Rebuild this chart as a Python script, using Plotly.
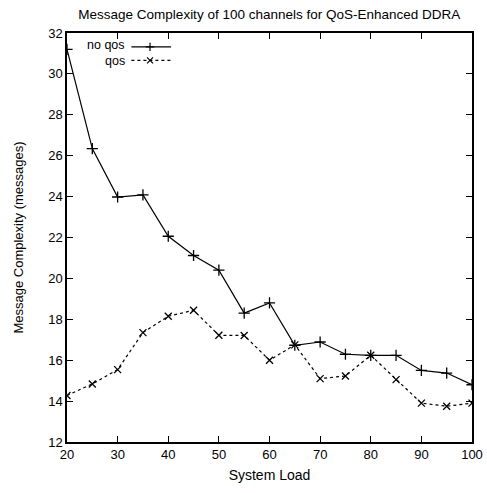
import plotly.graph_objects as go

# System load levels (x) and message complexity for each scheme
system_load = [20, 25, 30, 35, 40, 45, 50, 55, 60, 65, 70, 75, 80, 85, 90, 95, 100]
no_qos = [31.2, 26.35, 23.98, 24.08, 22.06, 21.12, 20.4, 18.3, 18.8, 16.73,
          16.89, 16.29, 16.24, 16.24, 15.5, 15.37, 14.8]
qos = [14.27, 14.84, 15.54, 17.35, 18.15, 18.44, 17.22, 17.21, 16.0, 16.75,
       15.1, 15.23, 16.24, 15.05, 13.9, 13.75, 13.9]

x_ticks = [20, 30, 40, 50, 60, 70, 80, 90, 100]
y_ticks = [12, 14, 16, 18, 20, 22, 24, 26, 28, 30, 32]

FONT = "Liberation Sans, Arial, sans-serif"
LW = 1.2

fig = go.Figure()

fig.add_trace(go.Scatter(
    x=system_load, y=no_qos, mode="lines+markers", name="no qos",
    line=dict(color="black", width=LW),
    marker=dict(symbol="cross-thin-open", size=8, color="black",
                line=dict(color="black", width=1.3)),
))
fig.add_trace(go.Scatter(
    x=system_load, y=qos, mode="lines+markers", name="qos",
    line=dict(color="black", width=LW, dash="3px,3px"),
    marker=dict(symbol="x-thin-open", size=7, color="black",
                line=dict(color="black", width=1.3)),
))

# Key in the upper-left corner: label on the left, line sample on the right
KEY_SPLIT = 0.951  # boundary between the two key rows (paper units)
key = [("no qos", "solid", "cross-thin-open", 0.966, "bottom"),
       ("qos", "3px,3px", "x-thin-open", 0.933, "top")]
for label, dash, sym, ky, anchor in key:
    fig.add_trace(go.Scatter(
        x=[0.159, 0.205, 0.257], y=[ky, ky, ky], xaxis="x2", yaxis="y2",
        mode="lines", line=dict(color="black", width=LW, dash=dash),
        hoverinfo="skip",
    ))
    fig.add_trace(go.Scatter(
        x=[0.205], y=[ky], xaxis="x2", yaxis="y2", mode="markers",
        marker=dict(symbol=sym, size=6, color="black",
                    line=dict(color="black", width=1.2)),
        hoverinfo="skip",
    ))
    fig.add_annotation(
        x=0.146, y=KEY_SPLIT, xref="paper", yref="paper", text=label,
        showarrow=False, xanchor="right", yanchor=anchor, borderpad=0,
        font=dict(family=FONT, size=12.5, color="black"),
    )

axis_common = dict(
    showgrid=False, zeroline=False, showline=True, linecolor="black",
    linewidth=1.5, mirror="ticks", ticks="inside", ticklen=6,
    tickwidth=1.3, tickcolor="black", automargin=False,
    tickfont=dict(family=FONT, size=13, color="black"),
)

fig.update_layout(
    width=487, height=493,
    margin=dict(l=67, r=15, t=33, b=51),
    paper_bgcolor="white", plot_bgcolor="white",
    showlegend=False,
    title=dict(
        text="Message Complexity of 100 channels for QoS-Enhanced DDRA",
        x=0.553, xanchor="center", y=0.971, yanchor="middle",
        font=dict(family=FONT, size=13.5, color="black"),
    ),
    xaxis=dict(
        range=[20, 100], tickvals=x_ticks, ticktext=[str(v) for v in x_ticks],
        title=dict(text="System Load", standoff=9,
                   font=dict(family=FONT, size=14, color="black")),
        **axis_common,
    ),
    yaxis=dict(
        range=[12, 32], tickvals=y_ticks, ticktext=[str(v) for v in y_ticks],
        title=dict(text="Message Complexity (messages)", standoff=22,
                   font=dict(family=FONT, size=13, color="black")),
        **axis_common,
    ),
    xaxis2=dict(range=[0, 1], overlaying="x", visible=False, fixedrange=True),
    yaxis2=dict(range=[0, 1], overlaying="y", visible=False, fixedrange=True),
)

fig.write_html("out.html")
